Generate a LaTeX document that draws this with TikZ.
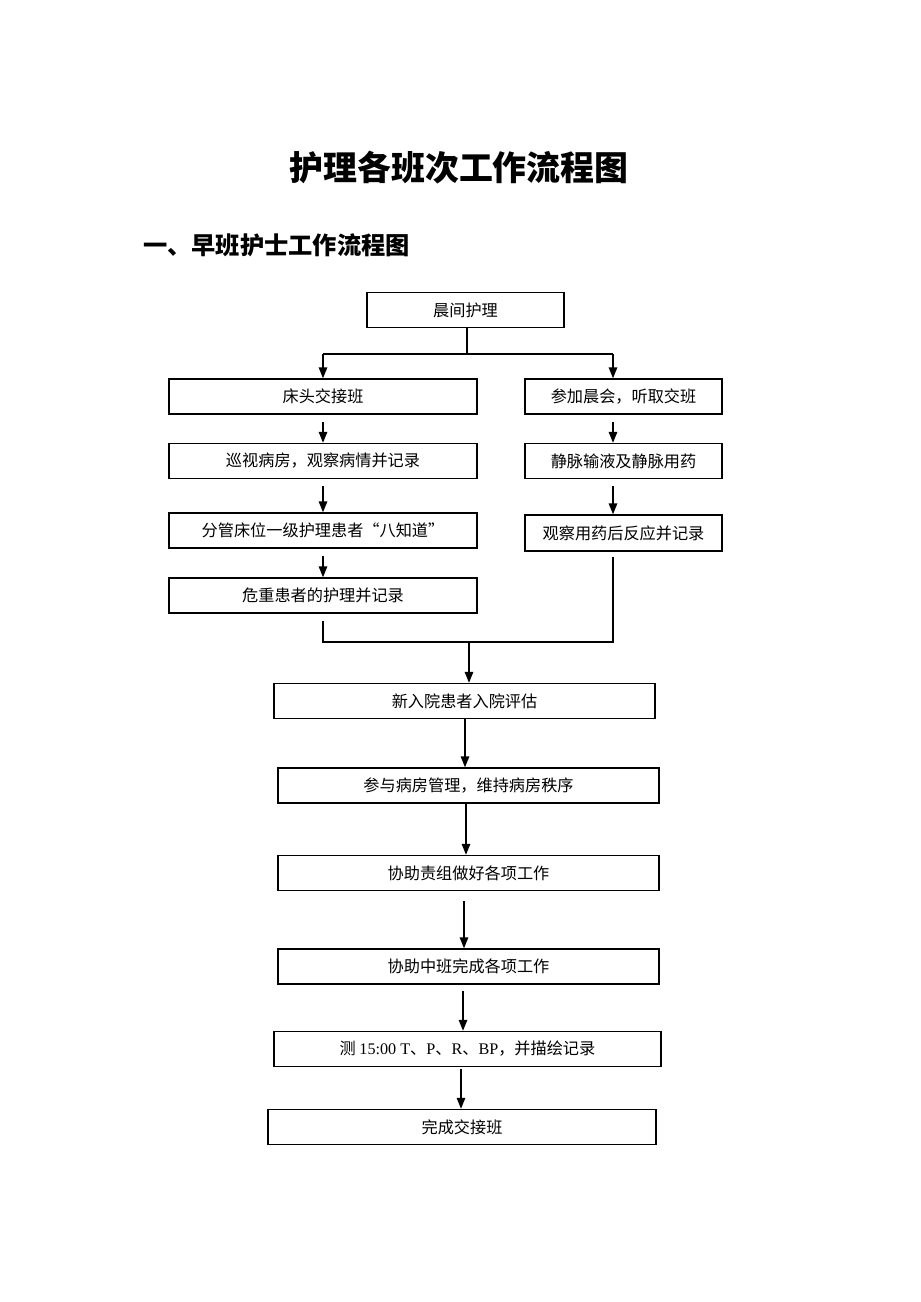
\documentclass[tikz,border=0pt]{standalone}
\usepackage{fontspec}
\usepackage{tikz}
\usetikzlibrary{positioning}
\usetikzlibrary{arrows.meta,calc}
\newfontfamily\cjk{Noto Sans CJK SC}
\newfontfamily\lat{Liberation Serif}
\newcommand{\boxfont}[0]{\cjk\fontsize{9.2pt}{11pt}\selectfont}

\begin{document}
\begin{tikzpicture}[x=0.2mm, y=-0.2mm,
    flow/.style={draw, line width=0.8pt, inner sep=0pt, minimum height=7mm, font=\boxfont},
    arr/.style={line width=0.8pt, -{Triangle[length=2.2mm, width=1.7mm]}}]
      \useasboundingbox (0,0) rectangle (920,1302);
      \node(title) at (459,168) {\cjk\bfseries\fontsize{19.3pt}{22pt}\selectfont 护理各班次工作流程图};
      \node(sub) [anchor=west] at (137,245) {\cjk\bfseries\fontsize{13.8pt}{16pt}\selectfont 一、早班护士工作流程图};

      \node(morning) [flow, minimum width=39.4mm] at (465.5,310) {晨间护理};
      \node(bed) [flow, minimum width=61.6mm] at (323,396.5) {床头交接班};
      \node(meet) [flow, minimum width=39.4mm] at (623.5,396.5) {参加晨会，听取交班};
      \node(ward) [flow, minimum width=61.6mm] at (323,461) {巡视病房，观察病情并记录};
      \node(drip) [flow, minimum width=39.4mm] at (623.5,461) {静脉输液及静脉用药};
      \node(eight) [flow, minimum width=61.6mm] at (323,530.5) {分管床位一级护理患者“八知道”};
      \node(react) [flow, minimum width=39.4mm, minimum height=7.2mm] at (623.5,533) {观察用药后反应并记录};
      \node(crit) [flow, minimum width=61.6mm] at (323,595.5) {危重患者的护理并记录};
      \node(admit) [flow, minimum width=76.2mm] at (464.5,701) {新入院患者入院评估};
      \node(order) [flow, minimum width=76.2mm] at (468.5,785.5) {参与病房管理，维持病房秩序};
      \node(help) [flow, minimum width=76.2mm] at (468.5,873) {协助责组做好各项工作};
      \node(mid) [flow, minimum width=76.2mm] at (468.5,966.5) {协助中班完成各项工作};
      \node(vital) [flow, minimum width=77.4mm] at (467.5,1049) {测 {\lat 15:00 T}、{\lat P}、{\lat R}、{\lat BP}，并描绘记录};
      \node(done) [flow, minimum width=77.6mm] at (462,1127) {完成交接班};

      \coordinate(split) at (467,354);
      \coordinate(join) at (469,642);

      \draw[line width=0.8pt] ([xshift=0.3mm]morning.south) -- (split);
      \draw[line width=0.8pt] (split -| bed) -- (split -| 613,0);
      \draw[arr] (split -| bed) -- (bed.north);
      \draw[arr] (split -| 613,0) -- (613,0 |- meet.north);
      \draw[arr, shorten <=1.4mm] (bed.south) -- (ward.north);
      \draw[arr, shorten <=1.4mm] (ward.south) -- (eight.north);
      \draw[arr, shorten <=1.4mm] (eight.south) -- (crit.north);
      \draw[arr, shorten <=1.4mm] (meet.south -| 613,0) -- (613,0 |- drip.north);
      \draw[arr, shorten <=1.4mm] (drip.south -| 613,0) -- (613,0 |- react.north);
      \draw[line width=0.8pt, shorten <=1.4mm] (crit.south) |- (join);
      \draw[line width=0.8pt, shorten <=1mm] (react.south -| 613,0) |- (join);
      \draw[arr] (join) -- (join |- admit.north);
      \draw[arr] ([xshift=0.1mm]admit.south) -- ([xshift=0.1mm]admit.south |- order.north);
      \draw[arr] ([xshift=-0.5mm]order.south) -- ([xshift=-0.5mm]order.south |- help.north);
      \draw[arr, shorten <=2mm] ([xshift=-0.9mm]help.south) -- ([xshift=-0.9mm]help.south |- mid.north);
      \draw[arr, shorten <=1.2mm] ([xshift=-1.1mm]mid.south) -- ([xshift=-1.1mm]mid.south |- vital.north);
      \draw[arr, shorten <=0.4mm] ([xshift=-1.3mm]vital.south) -- ([xshift=-1.3mm]vital.south |- done.north);
    \end{tikzpicture}
\end{document}
